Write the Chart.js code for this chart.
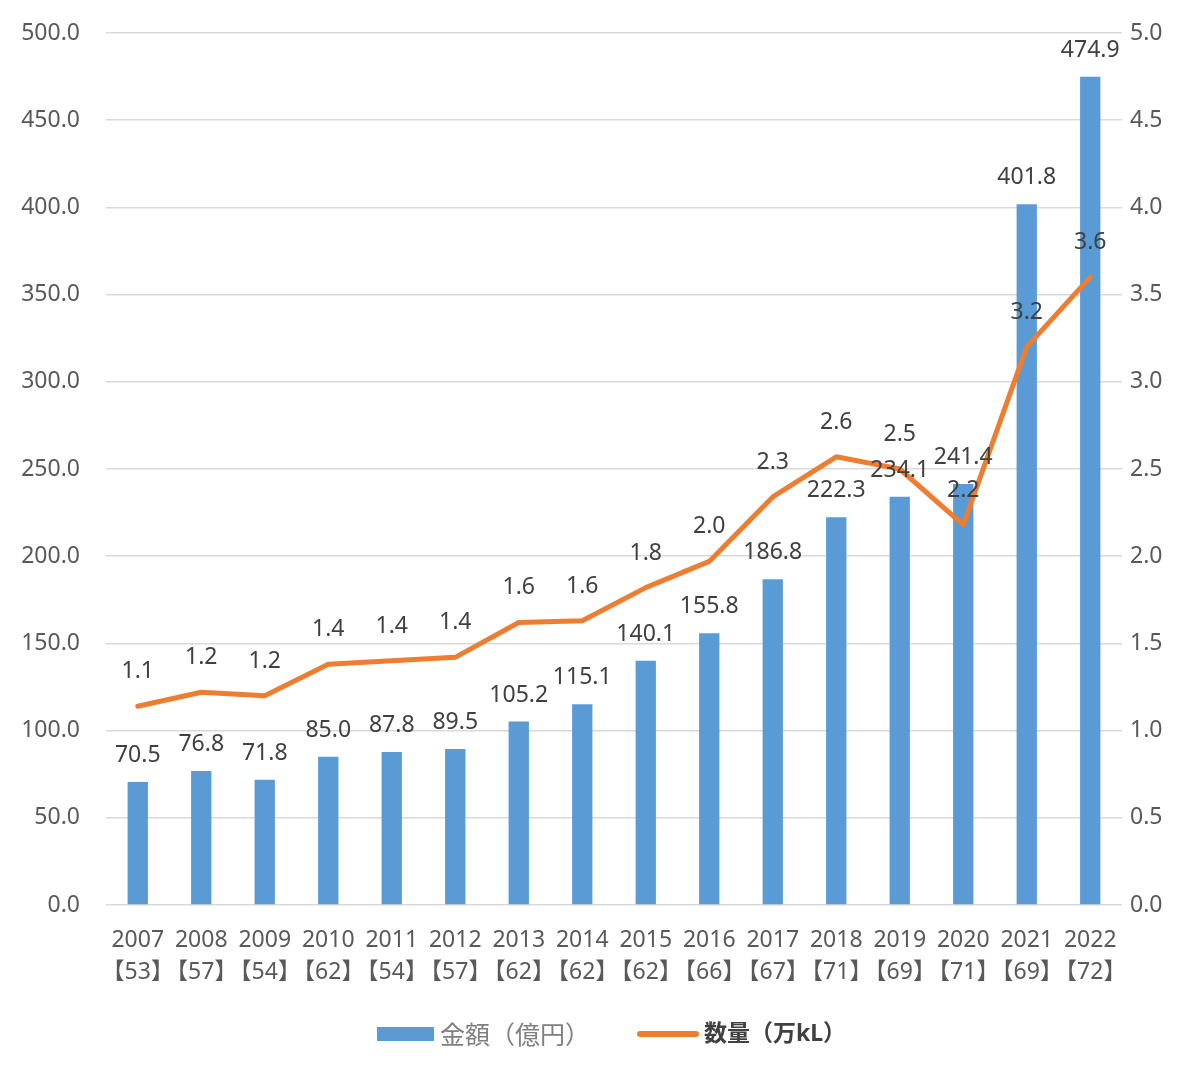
<!DOCTYPE html>
<html>
<head>
<meta charset="utf-8">
<script src="https://cdn.jsdelivr.net/npm/chart.js@4"></script>
<style>
  body { margin: 0; background: #fff; }
  canvas { display: block; }
</style>
</head>
<body>
<canvas id="chart" width="1200" height="1078"></canvas>
<script>
// 年度と【件数】
const years = ['2007','2008','2009','2010','2011','2012','2013','2014','2015','2016','2017','2018','2019','2020','2021','2022'];
const counts = [53, 57, 54, 62, 54, 57, 62, 62, 62, 66, 67, 71, 69, 71, 69, 72];
// 金額（億円）
const amount = [70.5, 76.8, 71.8, 85.0, 87.8, 89.5, 105.2, 115.1, 140.1, 155.8, 186.8, 222.3, 234.1, 241.4, 401.8, 474.9];
// 数量（万kL）
const volume = [1.14, 1.22, 1.20, 1.38, 1.40, 1.42, 1.62, 1.63, 1.82, 1.97, 2.34, 2.57, 2.50, 2.18, 3.20, 3.60];

const FONT = "'Noto Sans', 'Noto Sans CJK JP', sans-serif";
const CJK = "'Noto Sans CJK JP', 'Noto Sans', sans-serif";
const BLUE = '#5B9BD5';
const ORANGE = '#ED7D31';

// データラベル（値を上に表示）
const valueLabels = {
  id: 'valueLabels',
  afterDatasetsDraw(chart) {
    const ctx = chart.ctx;
    ctx.save();
    ctx.font = '23px ' + FONT;
    ctx.fillStyle = '#404040';
    ctx.textAlign = 'center';
    ctx.textBaseline = 'alphabetic';
    chart.getDatasetMeta(0).data.forEach((bar, i) => {
      ctx.fillText(amount[i].toFixed(1), bar.x, bar.y - 20);
    });
    chart.getDatasetMeta(1).data.forEach((pt, i) => {
      ctx.fillText(volume[i].toFixed(1), pt.x, pt.y - 28);
    });
    ctx.restore();
  }
};

// 凡例
const legendPlugin = {
  id: 'customLegend',
  afterDraw(chart) {
    const ctx = chart.ctx;
    const y = 1034;
    ctx.save();
    ctx.fillStyle = BLUE;
    ctx.fillRect(377, y - 7, 57, 14);
    ctx.font = '25px ' + CJK;
    ctx.fillStyle = '#7f7f7f';
    ctx.textAlign = 'left';
    ctx.textBaseline = 'middle';
    ctx.fillText('金額（億円）', 440, y);

    ctx.strokeStyle = ORANGE;
    ctx.lineWidth = 6;
    ctx.lineCap = 'round';
    ctx.beginPath();
    ctx.moveTo(640, y);
    ctx.lineTo(696, y);
    ctx.stroke();
    ctx.font = 'bold 23px ' + FONT;
    ctx.fillStyle = '#404040';
    ctx.fillText('数量（万kL）', 704, y);
    ctx.restore();
  }
};

const fitY = (w) => (s) => {
  s.width = w;
  s.paddingTop = 0;
  s.paddingBottom = 0;
};

new Chart(document.getElementById('chart'), {
  data: {
    labels: years.map((y, i) => [y, '【' + counts[i] + '】']),
    datasets: [
      {
        type: 'bar',
        label: '金額（億円）',
        data: amount,
        backgroundColor: BLUE,
        barPercentage: 0.32,
        categoryPercentage: 1,
        yAxisID: 'y',
        order: 2
      },
      {
        type: 'line',
        label: '数量（万kL）',
        data: volume,
        borderColor: ORANGE,
        borderWidth: 5,
        borderJoinStyle: 'round',
        borderCapStyle: 'round',
        pointRadius: 0,
        tension: 0,
        yAxisID: 'y1',
        order: 1
      }
    ]
  },
  options: {
    responsive: false,
    animation: false,
    layout: { padding: { top: 33, left: 0, right: 0, bottom: 0 } },
    plugins: {
      legend: { display: false },
      tooltip: { enabled: false }
    },
    scales: {
      x: {
        grid: { display: false, drawTicks: false },
        border: { display: false },
        ticks: {
          color: '#595959',
          font: { family: FONT, size: 23, lineHeight: '32px' },
          padding: 19,
          maxRotation: 0,
          autoSkip: false
        },
        afterFit: (s) => { s.height = 173; }
      },
      y: {
        position: 'left',
        min: 0,
        max: 500,
        grid: { color: '#d9d9d9', lineWidth: 1.5, drawTicks: false },
        border: { display: false },
        ticks: {
          stepSize: 50,
          color: '#595959',
          font: { family: FONT, size: 23 },
          padding: 26,
          callback: (v) => v.toFixed(1)
        },
        afterFit: fitY(106)
      },
      y1: {
        position: 'right',
        min: 0,
        max: 5,
        grid: { display: false, drawTicks: false },
        border: { display: false },
        ticks: {
          stepSize: 0.5,
          color: '#595959',
          font: { family: FONT, size: 23 },
          padding: 8,
          callback: (v) => v.toFixed(1)
        },
        afterFit: fitY(78)
      }
    }
  },
  plugins: [valueLabels, legendPlugin]
});
</script>
</body>
</html>
